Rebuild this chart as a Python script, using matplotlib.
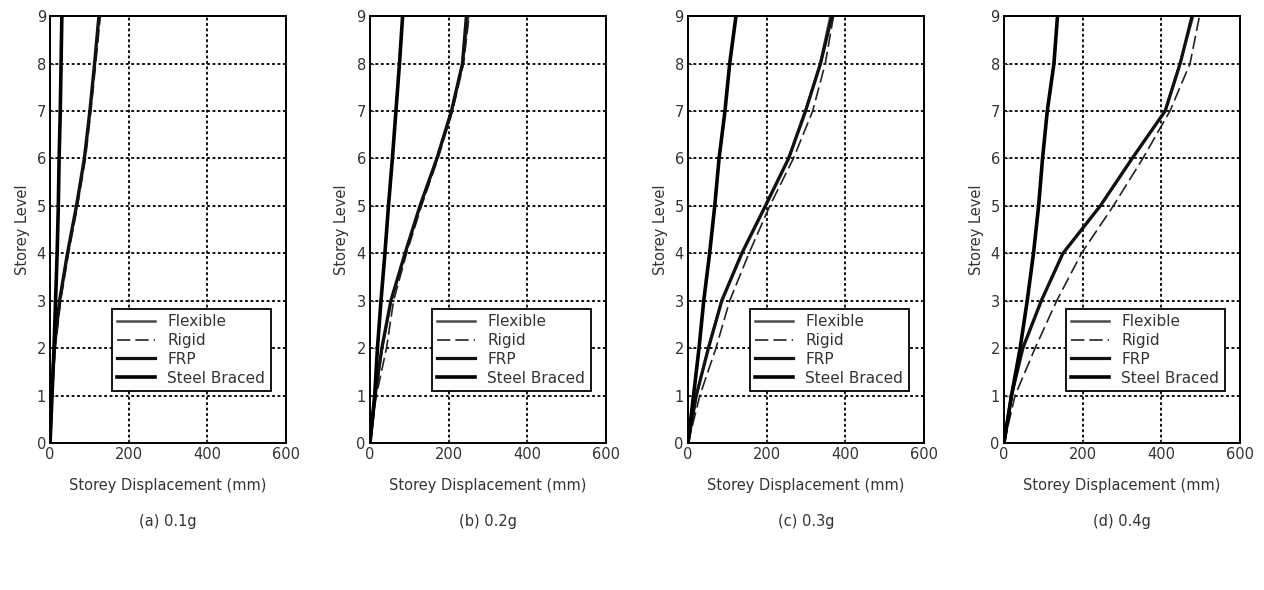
import matplotlib
matplotlib.use("Agg")
import matplotlib.pyplot as plt

plt.rcParams["font.family"] = ["DejaVu Sans"]

levels = [0, 1, 2, 3, 4, 5, 6, 7, 8, 9]

# storey displacement (mm) per level, one list per system and PGA
flexible_01 = [0, 4, 11, 25, 45, 68, 88, 102, 114, 125]
rigid_01 = [0, 5, 13, 27, 47, 70, 90, 104, 116, 128]
frp_01 = [0, 4, 11, 24, 44, 67, 87, 101, 113, 124]
steel_01 = [0, 5, 10, 14, 18, 21, 23, 26, 28, 30]

flexible_02 = [0, 13, 31, 54, 90, 128, 171, 208, 236, 250]
rigid_02 = [0, 16, 42, 60, 93, 131, 173, 210, 238, 252]
frp_02 = [0, 13, 30, 53, 89, 127, 170, 207, 235, 245]
steel_02 = [0, 12, 19, 28, 38, 47, 57, 66, 75, 83]

flexible_03 = [0, 21, 51, 85, 136, 196, 255, 298, 336, 362]
rigid_03 = [0, 30, 71, 106, 155, 208, 268, 317, 349, 370]
frp_03 = [0, 21, 52, 86, 137, 197, 256, 299, 337, 366]
steel_03 = [0, 14, 28, 40, 55, 68, 79, 94, 106, 122]

flexible_04 = [0, 19, 47, 94, 149, 244, 325, 409, 447, 481]
rigid_04 = [0, 28, 79, 134, 197, 278, 353, 422, 473, 497]
frp_04 = [0, 19, 48, 95, 150, 245, 326, 410, 448, 478]
steel_04 = [0, 19, 41, 59, 75, 88, 98, 110, 127, 136]

captions = ["(a) 0.1g", "(b) 0.2g", "(c) 0.3g", "(d) 0.4g"]
panels = [
    (flexible_01, rigid_01, frp_01, steel_01),
    (flexible_02, rigid_02, frp_02, steel_02),
    (flexible_03, rigid_03, frp_03, steel_03),
    (flexible_04, rigid_04, frp_04, steel_04),
]

fig = plt.figure(figsize=(12.64, 5.90), dpi=100)
lefts = [0.0396, 0.2927, 0.5443, 0.7943]
fs = 10.5
txt = "#333333"

for left, caption, (flex, rig, frp, steel) in zip(lefts, captions, panels):
    ax = fig.add_axes([left, 0.249, 0.1867, 0.7237])
    ax.plot(flex, levels, color="#4a4a4a", lw=1.8, label="Flexible")
    ax.plot(rig, levels, color="#222222", lw=1.2, ls=(0, (8, 3)), label="Rigid")
    ax.plot(frp, levels, color="#111111", lw=2.3, label="FRP")
    ax.plot(steel, levels, color="black", lw=2.6, label="Steel Braced")

    ax.set_xlim(0, 600)
    ax.set_ylim(0, 9)
    ax.set_xticks([0, 200, 400, 600])
    ax.set_yticks(levels)
    ax.grid(True, color="black", ls=(0, (1.6, 1.4)), lw=1.3)
    ax.tick_params(direction="in", labelsize=fs, length=3, pad=3, colors=txt)
    for s in ax.spines.values():
        s.set_linewidth(1.4)
    ax.set_xlabel("Storey Displacement (mm)", fontsize=fs, color=txt, labelpad=11)
    ax.set_ylabel("Storey Level", fontsize=fs, color=txt, labelpad=5)
    ax.text(0.5, -0.183, caption, transform=ax.transAxes, ha="center", va="center",
            fontsize=fs, color=txt)

    leg = ax.legend(loc="lower right", bbox_to_anchor=(0.935, 0.122), borderaxespad=0,
                    fontsize=11, handlelength=2.5, handletextpad=0.8,
                    labelspacing=0.25, fancybox=False, framealpha=1,
                    borderpad=0.35, labelcolor=txt)
    leg.get_frame().set_edgecolor("black")
    leg.get_frame().set_linewidth(1.3)

fig.savefig("out.png", dpi=100)
